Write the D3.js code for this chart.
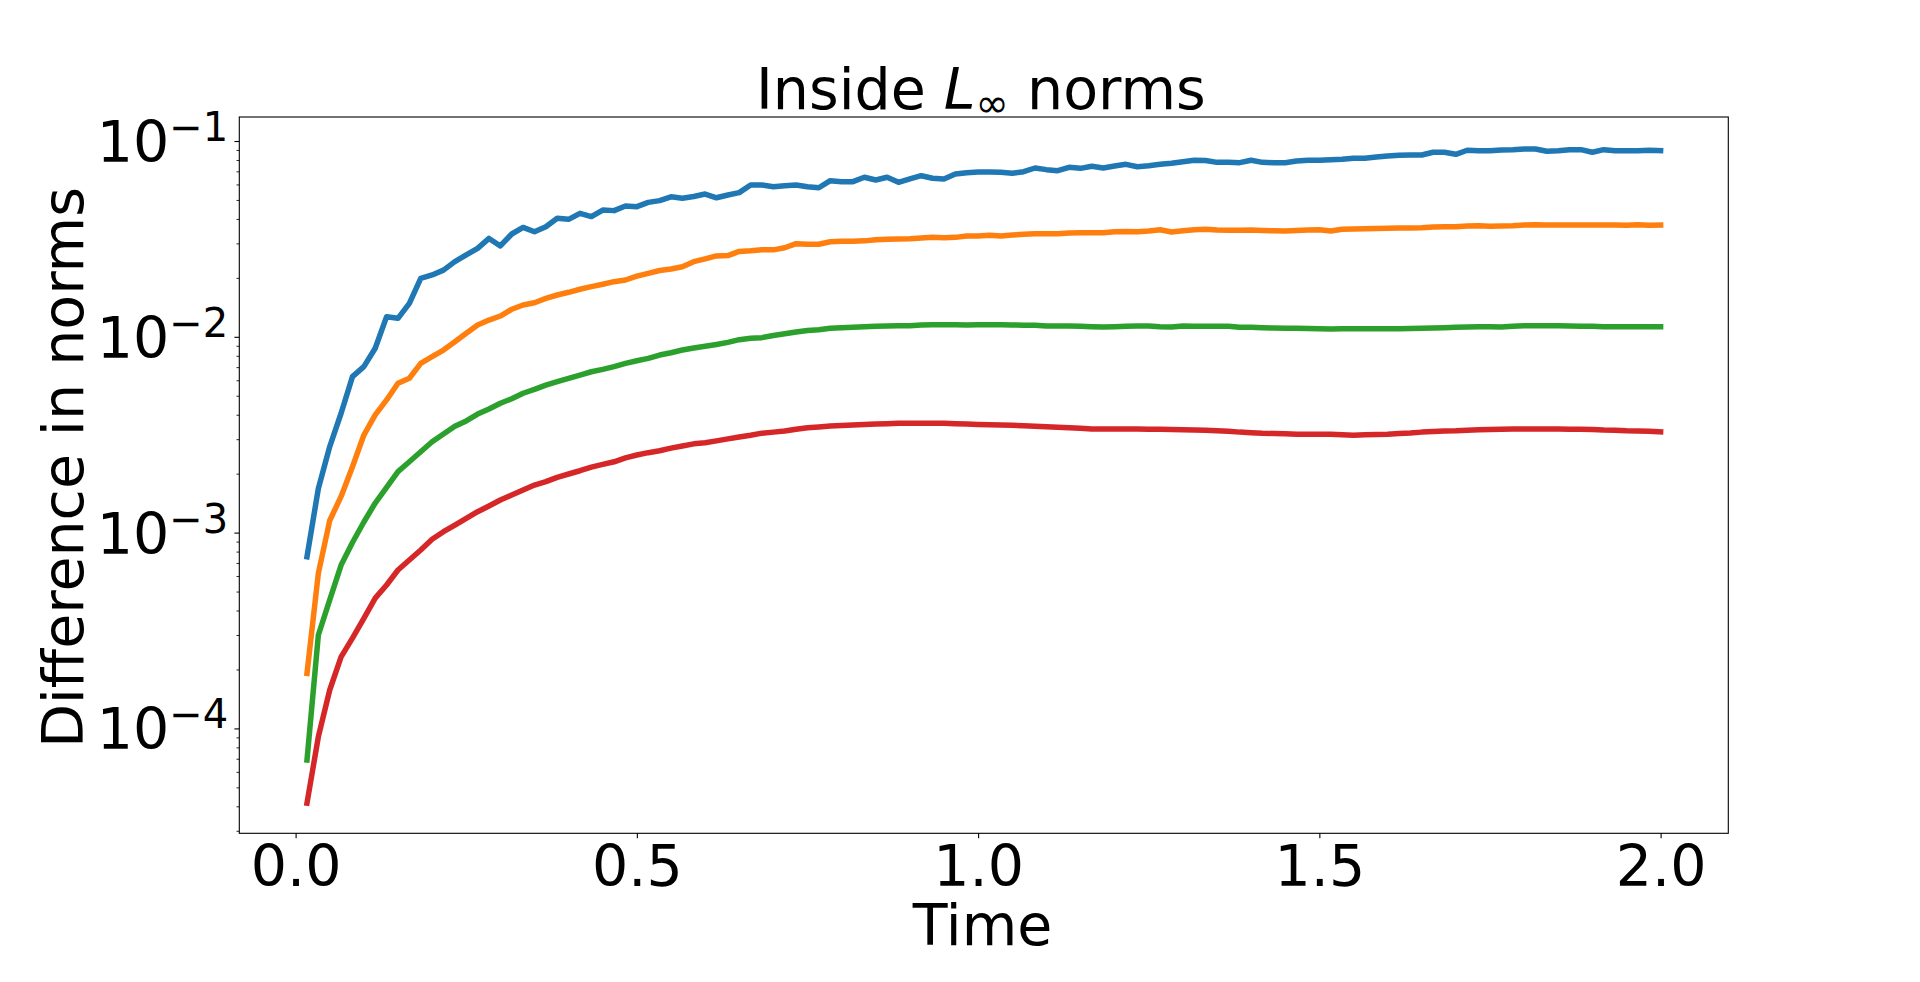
<!DOCTYPE html>
<html>
<head>
<meta charset="utf-8">
<script src="https://cdn.jsdelivr.net/npm/d3@7"></script>
<style>
  html, body { margin: 0; padding: 0; background: #ffffff; }
  svg { display: block; font-family: "DejaVu Sans", sans-serif; }
</style>
</head>
<body>
<svg id="chart" width="1920" height="982"></svg>
<script>
// ---------------- data ----------------
// sample times: t = k/60, k = 1..120
const times = d3.range(1, 121).map(k => k / 60);

const seriesBlue = [7.53e-4,1.68e-3,2.75e-3,4.07e-3,6.26e-3,7.04e-3,8.74e-3,1.267e-2,1.243e-2,1.483e-2,
1.99e-2,2.07e-2,2.19e-2,2.42e-2,2.62e-2,2.83e-2,3.18e-2,2.91e-2,3.35e-2,3.62e-2,
3.44e-2,3.65e-2,4.03e-2,3.98e-2,4.27e-2,4.11e-2,4.44e-2,4.41e-2,4.66e-2,4.62e-2,
4.86e-2,4.96e-2,5.19e-2,5.10e-2,5.21e-2,5.36e-2,5.13e-2,5.30e-2,5.45e-2,5.96e-2,
5.96e-2,5.84e-2,5.91e-2,5.96e-2,5.84e-2,5.77e-2,6.27e-2,6.20e-2,6.20e-2,6.53e-2,
6.32e-2,6.53e-2,6.15e-2,6.40e-2,6.65e-2,6.45e-2,6.40e-2,6.78e-2,6.89e-2,6.95e-2,
6.95e-2,6.92e-2,6.84e-2,6.97e-2,7.28e-2,7.14e-2,7.05e-2,7.34e-2,7.25e-2,7.43e-2,
7.28e-2,7.45e-2,7.60e-2,7.39e-2,7.48e-2,7.60e-2,7.69e-2,7.84e-2,7.97e-2,7.95e-2,
7.78e-2,7.78e-2,7.75e-2,7.97e-2,7.78e-2,7.75e-2,7.75e-2,7.90e-2,7.97e-2,7.97e-2,
8.03e-2,8.06e-2,8.16e-2,8.16e-2,8.28e-2,8.38e-2,8.45e-2,8.48e-2,8.48e-2,8.76e-2,
8.76e-2,8.55e-2,8.97e-2,8.92e-2,8.92e-2,9.00e-2,9.03e-2,9.10e-2,9.10e-2,8.86e-2,
8.92e-2,9.03e-2,9.03e-2,8.76e-2,9.03e-2,8.92e-2,8.92e-2,8.92e-2,8.97e-2,8.92e-2];

const seriesOrange = [1.91e-4,6.20e-4,1.153e-3,1.53e-3,2.17e-3,3.15e-3,3.99e-3,4.76e-3,5.79e-3,6.14e-3,
7.32e-3,7.91e-3,8.56e-3,9.44e-3,1.042e-2,1.149e-2,1.218e-2,1.277e-2,1.382e-2,1.453e-2,
1.493e-2,1.572e-2,1.635e-2,1.688e-2,1.749e-2,1.803e-2,1.854e-2,1.912e-2,1.95e-2,2.04e-2,
2.11e-2,2.18e-2,2.22e-2,2.28e-2,2.42e-2,2.50e-2,2.59e-2,2.60e-2,2.73e-2,2.75e-2,
2.78e-2,2.78e-2,2.85e-2,2.99e-2,2.97e-2,2.97e-2,3.06e-2,3.08e-2,3.08e-2,3.09e-2,
3.13e-2,3.15e-2,3.16e-2,3.17e-2,3.20e-2,3.22e-2,3.21e-2,3.22e-2,3.27e-2,3.27e-2,
3.30e-2,3.27e-2,3.31e-2,3.34e-2,3.36e-2,3.36e-2,3.36e-2,3.39e-2,3.40e-2,3.40e-2,
3.40e-2,3.44e-2,3.45e-2,3.44e-2,3.47e-2,3.52e-2,3.43e-2,3.48e-2,3.52e-2,3.54e-2,
3.51e-2,3.50e-2,3.50e-2,3.51e-2,3.49e-2,3.48e-2,3.47e-2,3.49e-2,3.51e-2,3.52e-2,
3.47e-2,3.54e-2,3.55e-2,3.56e-2,3.57e-2,3.58e-2,3.59e-2,3.60e-2,3.61e-2,3.64e-2,
3.65e-2,3.65e-2,3.68e-2,3.69e-2,3.67e-2,3.68e-2,3.69e-2,3.72e-2,3.74e-2,3.72e-2,
3.72e-2,3.72e-2,3.72e-2,3.72e-2,3.72e-2,3.72e-2,3.71e-2,3.74e-2,3.71e-2,3.72e-2];

const seriesGreen = [6.90e-5,3.00e-4,4.53e-4,6.83e-4,8.90e-4,1.133e-3,1.416e-3,1.70e-3,2.05e-3,2.30e-3,
2.59e-3,2.91e-3,3.19e-3,3.49e-3,3.72e-3,4.03e-3,4.28e-3,4.58e-3,4.83e-3,5.15e-3,
5.39e-3,5.67e-3,5.90e-3,6.14e-3,6.38e-3,6.63e-3,6.82e-3,7.04e-3,7.32e-3,7.55e-3,
7.76e-3,8.07e-3,8.29e-3,8.56e-3,8.77e-3,8.94e-3,9.14e-3,9.37e-3,9.67e-3,9.82e-3,
9.90e-3,1.015e-2,1.036e-2,1.058e-2,1.077e-2,1.086e-2,1.105e-2,1.112e-2,1.118e-2,1.125e-2,
1.131e-2,1.135e-2,1.139e-2,1.139e-2,1.149e-2,1.151e-2,1.152e-2,1.151e-2,1.149e-2,1.151e-2,
1.152e-2,1.151e-2,1.149e-2,1.146e-2,1.145e-2,1.135e-2,1.135e-2,1.135e-2,1.131e-2,1.126e-2,
1.122e-2,1.126e-2,1.131e-2,1.135e-2,1.135e-2,1.126e-2,1.122e-2,1.135e-2,1.133e-2,1.131e-2,
1.131e-2,1.131e-2,1.119e-2,1.118e-2,1.112e-2,1.109e-2,1.107e-2,1.105e-2,1.102e-2,1.100e-2,
1.096e-2,1.099e-2,1.100e-2,1.100e-2,1.100e-2,1.100e-2,1.100e-2,1.104e-2,1.107e-2,1.109e-2,
1.113e-2,1.119e-2,1.122e-2,1.125e-2,1.125e-2,1.122e-2,1.133e-2,1.139e-2,1.139e-2,1.139e-2,
1.138e-2,1.135e-2,1.133e-2,1.131e-2,1.127e-2,1.127e-2,1.127e-2,1.127e-2,1.127e-2,1.127e-2];

const seriesRed = [4.15e-5,9.07e-5,1.571e-4,2.32e-4,2.89e-4,3.65e-4,4.63e-4,5.40e-4,6.44e-4,7.25e-4,
8.15e-4,9.24e-4,1.011e-3,1.093e-3,1.183e-3,1.279e-3,1.368e-3,1.467e-3,1.556e-3,1.650e-3,
1.750e-3,1.820e-3,1.916e-3,1.992e-3,2.07e-3,2.16e-3,2.23e-3,2.30e-3,2.41e-3,2.49e-3,
2.56e-3,2.62e-3,2.70e-3,2.77e-3,2.84e-3,2.88e-3,2.94e-3,3.01e-3,3.08e-3,3.14e-3,
3.22e-3,3.26e-3,3.30e-3,3.37e-3,3.43e-3,3.46e-3,3.50e-3,3.52e-3,3.54e-3,3.57e-3,
3.59e-3,3.60e-3,3.62e-3,3.62e-3,3.62e-3,3.62e-3,3.62e-3,3.60e-3,3.59e-3,3.57e-3,
3.56e-3,3.54e-3,3.53e-3,3.51e-3,3.49e-3,3.47e-3,3.45e-3,3.43e-3,3.41e-3,3.38e-3,
3.38e-3,3.38e-3,3.38e-3,3.38e-3,3.37e-3,3.37e-3,3.36e-3,3.35e-3,3.34e-3,3.33e-3,
3.31e-3,3.29e-3,3.26e-3,3.24e-3,3.22e-3,3.21e-3,3.20e-3,3.18e-3,3.18e-3,3.18e-3,
3.18e-3,3.16e-3,3.14e-3,3.16e-3,3.17e-3,3.18e-3,3.21e-3,3.23e-3,3.26e-3,3.28e-3,
3.30e-3,3.31e-3,3.33e-3,3.35e-3,3.36e-3,3.37e-3,3.38e-3,3.38e-3,3.38e-3,3.38e-3,
3.38e-3,3.37e-3,3.37e-3,3.36e-3,3.34e-3,3.33e-3,3.31e-3,3.30e-3,3.29e-3,3.27e-3];

const seriesColors = ["#1f77b4", "#ff7f0e", "#2ca02c", "#d62728"];
const xTickValues = [0.0, 0.5, 1.0, 1.5, 2.0];
const yTickValues = [1e-4, 1e-3, 1e-2, 1e-1];
const titleParts = { before: "Inside ", symbol: "L", sub: "\u221E", after: " norms" };
const xLabel = "Time";
const yLabel = "Difference in norms";

// ---------------- layout ----------------
const plot = { left: 239.3, right: 1728.3, top: 117, bottom: 833.3 };
const FS = 57, FS_SMALL = 40;

const svg = d3.select("#chart");
svg.append("rect").attr("width", 1920).attr("height", 982).attr("fill", "#ffffff");

const x = d3.scaleLinear().domain([-0.0825, 2.0992]).range([plot.left, plot.right]);
const y = d3.scaleLog().domain([Math.pow(10, -4.5357), Math.pow(10, -0.8774)]).range([plot.bottom, plot.top]);

// lines
const line = d3.line().x((d, i) => x(times[i])).y(d => y(d));
const allSeries = [seriesBlue, seriesOrange, seriesGreen, seriesRed];
svg.append("defs").append("clipPath").attr("id", "clip")
  .append("rect").attr("x", plot.left).attr("y", plot.top)
  .attr("width", plot.right - plot.left).attr("height", plot.bottom - plot.top);
const gLines = svg.append("g").attr("clip-path", "url(#clip)");
allSeries.forEach((s, k) => {
  gLines.append("path")
    .datum(s)
    .attr("d", line)
    .attr("fill", "none")
    .attr("stroke", seriesColors[k])
    .attr("stroke-width", 5.5)
    .attr("stroke-linejoin", "round")
    .attr("stroke-linecap", "square");
});

// x axis
const gx = svg.append("g").attr("transform", `translate(0,${plot.bottom})`)
  .call(d3.axisBottom(x).tickValues(xTickValues).tickFormat(d3.format(".1f")).tickSize(4.9).tickPadding(7.3));
gx.select(".domain").remove();
gx.selectAll(".tick line").attr("stroke", "#000").attr("stroke-width", 1.1);
gx.selectAll(".tick text").attr("font-size", FS).attr("font-family", "DejaVu Sans").attr("fill", "#000");

// y axis minor ticks
const minorVals = [];
[-5, -4, -3, -2, -1].forEach(e => { for (let m = 2; m <= 9; m++) minorVals.push(m * Math.pow(10, e)); });
const yDom = y.domain();
const gyMinor = svg.append("g").attr("transform", `translate(${plot.left},0)`)
  .call(d3.axisLeft(y).tickValues(minorVals.filter(v => v >= yDom[0] && v <= yDom[1])).tickFormat("").tickSize(2.8));
gyMinor.select(".domain").remove();
gyMinor.selectAll(".tick line").attr("stroke", "#000").attr("stroke-width", 0.85);

// y axis major ticks
const gy = svg.append("g").attr("transform", `translate(${plot.left},0)`)
  .call(d3.axisLeft(y).tickValues(yTickValues).tickFormat("").tickSize(4.9));
gy.select(".domain").remove();
gy.selectAll(".tick line").attr("stroke", "#000").attr("stroke-width", 1.1);
gy.selectAll(".tick text").remove();
gy.selectAll(".tick").each(function(d) {
  const e = Math.round(Math.log10(d));
  const t = d3.select(this).append("text")
    .attr("x", -11).attr("y", 20.5)
    .attr("text-anchor", "end")
    .attr("font-family", "DejaVu Sans")
    .attr("fill", "#000");
  t.append("tspan").attr("font-size", FS).text("10");
  t.append("tspan").attr("font-size", FS_SMALL).attr("dy", -21).text("\u2212" + Math.abs(e));
});

// spines
svg.append("rect")
  .attr("x", plot.left).attr("y", plot.top)
  .attr("width", plot.right - plot.left).attr("height", plot.bottom - plot.top)
  .attr("fill", "none").attr("stroke", "#000").attr("stroke-width", 1.1);

// title
const title = svg.append("text").attr("x", 756).attr("y", 109)
  .attr("font-family", "DejaVu Sans").attr("font-size", FS).attr("fill", "#000")
  .attr("xml:space", "preserve");
title.append("tspan").text(titleParts.before);
title.append("tspan").attr("font-style", "italic").text(titleParts.symbol);
title.append("tspan").attr("font-size", FS_SMALL).attr("dy", 7.5).text(titleParts.sub);
title.append("tspan").attr("dy", -7.5).text(titleParts.after);

// axis labels
svg.append("text").attr("x", 982.5).attr("y", 945)
  .attr("text-anchor", "middle").attr("font-family", "DejaVu Sans").attr("font-size", FS)
  .attr("fill", "#000").text(xLabel);
svg.append("text").attr("transform", "translate(83.3,467.5) rotate(-90)")
  .attr("text-anchor", "middle").attr("font-family", "DejaVu Sans").attr("font-size", FS)
  .attr("fill", "#000").text(yLabel);
</script>
</body>
</html>
